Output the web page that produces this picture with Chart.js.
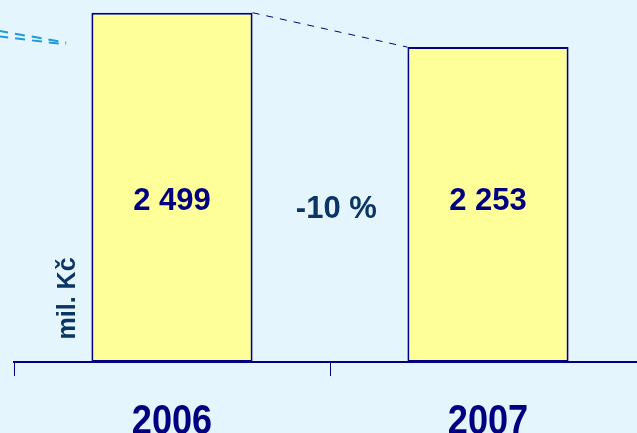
<!DOCTYPE html>
<html>
<head>
<meta charset="utf-8">
<script src="https://cdn.jsdelivr.net/npm/chart.js@4"></script>
<style>
  html, body { margin: 0; padding: 0; background: #e5f5fd; overflow: hidden; }
  #wrap { position: relative; width: 660px; height: 433px; }
</style>
</head>
<body>
<div id="wrap"><canvas id="trzbyChart"></canvas></div>
<script>
// Tržby (mil. Kč) – meziroční srovnání
const roky = ['2006', '2007'];
const hodnoty = [2499, 2253];
const osaY = 'mil. Kč';
// pokračování trendu z předchozího roku (index kategorie, hodnota)
const trendPrevX = [-0.55, -0.335];
const trendPrevY = [2370, 2285];
const trendPrevY2 = [2330, 2272];

const colors = {
    bg: '#e5f5fd',
    bar: '#ffff99',
    navy: '#000080',
    dark: '#0b3565',
    trend: '#1a9cd6'
};

function fmt(v) {
    return v.toLocaleString('cs-CZ').replace(/\s/g, ' ');
}

const dekorace = {
    id: 'dekorace',
    afterDatasetsDraw(chart) {
        const ctx = chart.ctx;
        const x = chart.scales.x, y = chart.scales.y;
        const bars = chart.getDatasetMeta(0).data;
        ctx.save();

        // spojnice vrcholů sloupců
        const a = bars[0], b = bars[1];
        ctx.strokeStyle = colors.navy;
        ctx.lineWidth = 1;
        ctx.setLineDash([7, 7]);
        ctx.beginPath();
        ctx.moveTo(a.x + a.width / 2, a.y);
        ctx.lineTo(b.x - b.width / 2, b.y);
        ctx.stroke();

        // trend z předchozího období
        ctx.strokeStyle = colors.trend;
        ctx.lineWidth = 2;
        ctx.setLineDash([10, 7]);
        [trendPrevY, trendPrevY2].forEach(ys => {
            ctx.beginPath();
            ctx.moveTo(x.getPixelForValue(trendPrevX[0]), y.getPixelForValue(ys[0]));
            ctx.lineTo(x.getPixelForValue(trendPrevX[1]), y.getPixelForValue(ys[1]));
            ctx.stroke();
        });
        ctx.setLineDash([]);

        // hodnoty ve sloupcích
        const yText = y.getPixelForValue(1150);
        ctx.textAlign = 'center';
        ctx.textBaseline = 'middle';
        ctx.fillStyle = colors.navy;
        ctx.font = 'bold 31px "Liberation Sans", Arial, sans-serif';
        bars.forEach((bar, i) => ctx.fillText(fmt(hodnoty[i]), bar.x, yText));

        // meziroční změna
        const zmena = Math.round((hodnoty[1] - hodnoty[0]) / hodnoty[0] * 100);
        ctx.fillStyle = colors.dark;
        ctx.fillText(zmena + ' %', x.getPixelForValue(0.52), y.getPixelForValue(1090));

        // popisek osy
        ctx.save();
        ctx.translate(x.getPixelForValue(-0.33), y.getPixelForValue(455));
        ctx.rotate(-Math.PI / 2);
        ctx.font = 'bold 25px "Liberation Sans", Arial, sans-serif';
        ctx.fillText(osaY, 0, 0);
        ctx.restore();

        // roky pod osou (zúžené písmo)
        ctx.fillStyle = colors.navy;
        ctx.textBaseline = 'alphabetic';
        ctx.font = 'bold 42px "Liberation Sans", Arial, sans-serif';
        roky.forEach((r, i) => {
            ctx.save();
            ctx.translate(x.getPixelForValue(i), chart.height + 1);
            ctx.scale(0.86, 1);
            ctx.fillText(r, 0, 0);
            ctx.restore();
        });
        ctx.restore();
    }
};

const ctx = document.getElementById('trzbyChart').getContext('2d');
new Chart(ctx, {
    type: 'bar',
    data: {
        labels: roky,
        datasets: [{
            data: hodnoty,
            backgroundColor: colors.bar,
            borderColor: colors.navy,
            borderWidth: 2,
            borderSkipped: false,
            barPercentage: 0.51,
            categoryPercentage: 1
        }]
    },
    options: {
        responsive: true,
        maintainAspectRatio: false,
        animation: false,
        layout: { padding: { left: 14, right: 14, top: 0, bottom: 57 } },
        plugins: {
            legend: { display: false },
            tooltip: { enabled: false }
        },
        scales: {
            y: {
                display: false,
                min: 0,
                max: 2590
            },
            x: {
                border: { color: colors.navy, width: 2 },
                grid: {
                    offset: true,
                    drawOnChartArea: false,
                    color: colors.navy,
                    lineWidth: 1,
                    tickLength: 14
                },
                ticks: { display: false }
            }
        }
    },
    plugins: [dekorace]
});
</script>
</body>
</html>
